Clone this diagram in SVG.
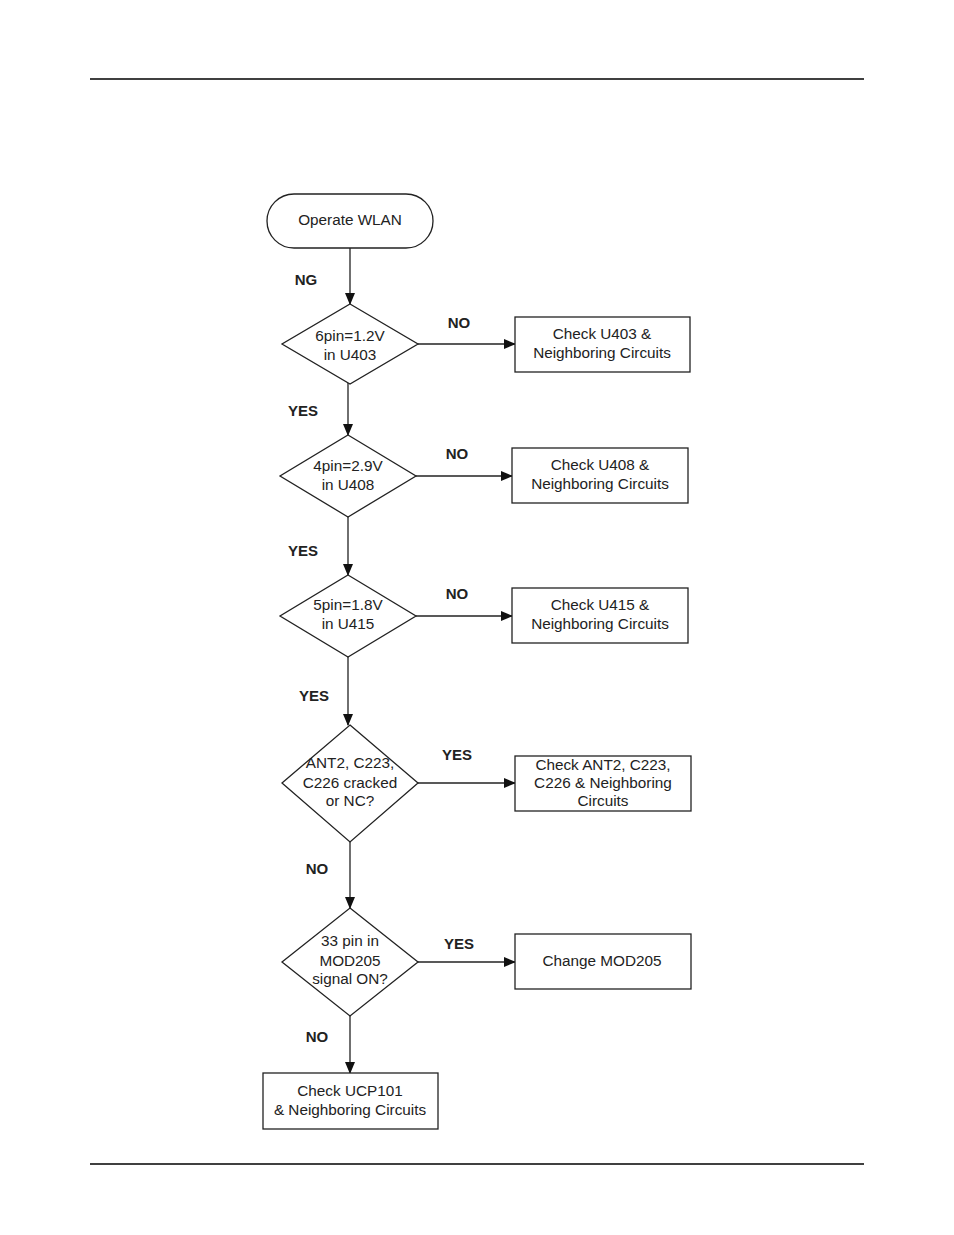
<svg xmlns="http://www.w3.org/2000/svg" width="954" height="1235" viewBox="0 0 954 1235">
<style>
.s{fill:#fff;stroke:#222;stroke-width:1.3}
.t{font-family:"Liberation Sans",Arial,sans-serif;font-size:15.3px;fill:#222;text-anchor:middle}
.l{font-family:"Liberation Sans",Arial,sans-serif;font-size:15px;font-weight:bold;fill:#222;text-anchor:middle}
.c{stroke:#222;stroke-width:1.3;fill:none;marker-end:url(#a)}
</style>
<defs>
<marker id="a" markerWidth="12" markerHeight="10" refX="11" refY="5" orient="auto" markerUnits="userSpaceOnUse">
<path d="M0,0 L12,5 L0,10 Z" fill="#111"/>
</marker>
</defs>
<rect width="954" height="1235" fill="#fff"/>
<line x1="90" y1="79" x2="864" y2="79" stroke="#000" stroke-width="1.3"/>
<line x1="90" y1="1164" x2="864" y2="1164" stroke="#000" stroke-width="1.3"/>
<g id="connectors">
<line class="c" x1="350" y1="248" x2="350" y2="304"/>
<line class="c" x1="418" y1="344" x2="515" y2="344"/>
<line class="c" x1="348" y1="383" x2="348" y2="435"/>
<line class="c" x1="416" y1="476" x2="512" y2="476"/>
<line class="c" x1="348" y1="517" x2="348" y2="575"/>
<line class="c" x1="416" y1="616" x2="512" y2="616"/>
<line class="c" x1="348" y1="657" x2="348" y2="725"/>
<line class="c" x1="418" y1="783" x2="515" y2="783"/>
<line class="c" x1="350" y1="842" x2="350" y2="908"/>
<line class="c" x1="418" y1="962" x2="515" y2="962"/>
<line class="c" x1="350" y1="1015" x2="350" y2="1073"/>
<text class="l" x="306" y="285">NG</text>
<text class="l" x="459" y="328">NO</text>
<text class="l" x="303" y="416">YES</text>
<text class="l" x="457" y="459">NO</text>
<text class="l" x="303" y="556">YES</text>
<text class="l" x="457" y="599">NO</text>
<text class="l" x="314" y="701">YES</text>
<text class="l" x="457" y="760">YES</text>
<text class="l" x="317" y="874">NO</text>
<text class="l" x="459" y="949">YES</text>
<text class="l" x="317" y="1042">NO</text>
</g>
<g id="start">
<rect class="s" x="267" y="194" width="166" height="54" rx="27" ry="27"/>
<text class="t" x="350" y="225">Operate WLAN</text>
</g>
<g id="d1">
<polygon class="s" points="350,304 418,344 350,384 282,344"/>
<text class="t" x="350" y="341">6pin=1.2V</text>
<text class="t" x="350" y="360">in U403</text>
</g>
<g id="b1">
<rect class="s" x="515" y="317" width="175" height="55"/>
<text class="t" x="602" y="339">Check U403 &amp;</text>
<text class="t" x="602" y="358">Neighboring Circuits</text>
</g>
<g id="d2">
<polygon class="s" points="348,435 416,476 348,517 280,476"/>
<text class="t" x="348" y="471">4pin=2.9V</text>
<text class="t" x="348" y="490">in U408</text>
</g>
<g id="b2">
<rect class="s" x="512" y="448" width="176" height="55"/>
<text class="t" x="600" y="470">Check U408 &amp;</text>
<text class="t" x="600" y="489">Neighboring Circuits</text>
</g>
<g id="d3">
<polygon class="s" points="348,575 416,616 348,657 280,616"/>
<text class="t" x="348" y="610">5pin=1.8V</text>
<text class="t" x="348" y="629">in U415</text>
</g>
<g id="b3">
<rect class="s" x="512" y="588" width="176" height="55"/>
<text class="t" x="600" y="610">Check U415 &amp;</text>
<text class="t" x="600" y="629">Neighboring Circuits</text>
</g>
<g id="d4">
<polygon class="s" points="350,725 418,783 350,842 282,783"/>
<text class="t" x="350" y="768">ANT2, C223,</text>
<text class="t" x="350" y="788">C226 cracked</text>
<text class="t" x="350" y="806">or NC?</text>
</g>
<g id="b4">
<rect class="s" x="515" y="756" width="176" height="55"/>
<text class="t" x="603" y="770">Check ANT2, C223,</text>
<text class="t" x="603" y="788">C226 &amp; Neighboring</text>
<text class="t" x="603" y="806">Circuits</text>
</g>
<g id="d5">
<polygon class="s" points="350,908 418,962 350,1016 282,962"/>
<text class="t" x="350" y="946">33 pin in</text>
<text class="t" x="350" y="966">MOD205</text>
<text class="t" x="350" y="984">signal ON?</text>
</g>
<g id="b5">
<rect class="s" x="515" y="934" width="176" height="55"/>
<text class="t" x="602" y="966">Change MOD205</text>
</g>
<g id="b6">
<rect class="s" x="263" y="1073" width="175" height="56"/>
<text class="t" x="350" y="1096">Check UCP101</text>
<text class="t" x="350" y="1115">&amp; Neighboring Circuits</text>
</g>
</svg>
